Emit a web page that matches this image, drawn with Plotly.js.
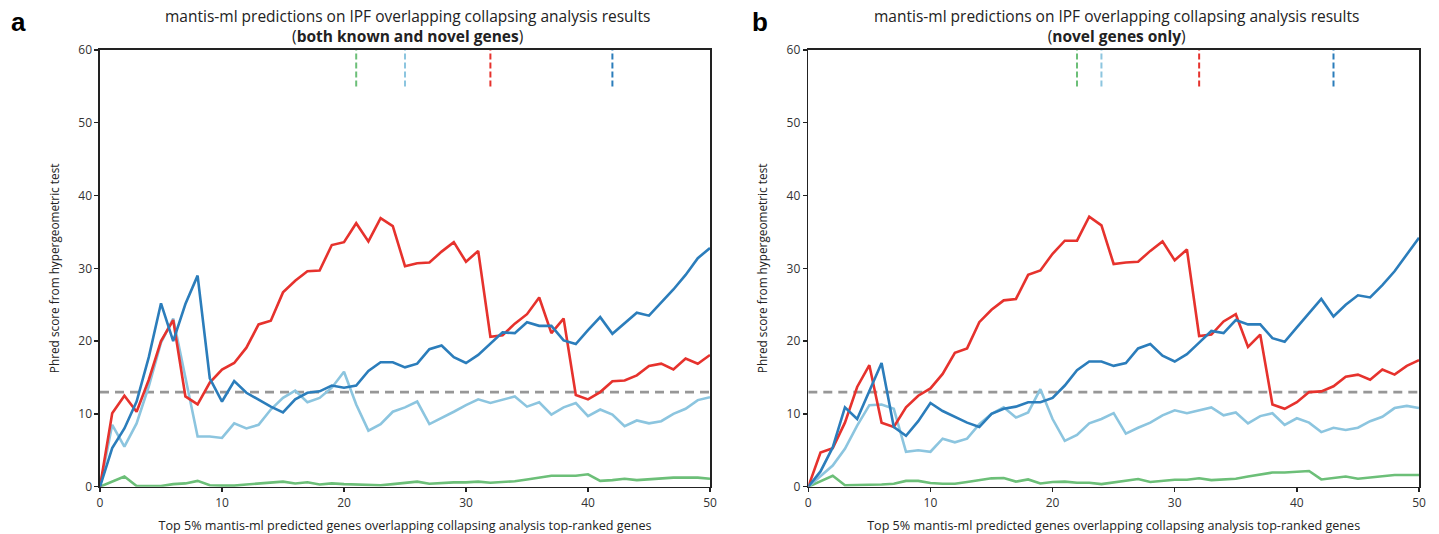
<!DOCTYPE html>
<html>
<head>
<meta charset="utf-8">
<script src="https://cdn.plot.ly/plotly-3.0.1.min.js"></script>
<style>html,body{margin:0;padding:0;background:#fff;}#chart{width:1439px;height:534px;}</style>
</head>
<body>
<div id="chart"></div>
<script>
// x positions (number of top-ranked genes)
const xVals = [0,1,2,3,4,5,6,7,8,9,10,11,12,13,14,15,16,17,18,19,20,21,22,23,24,25,26,27,28,29,30,31,32,33,34,35,36,37,38,39,40,41,42,43,44,45,46,47,48,49,50];

// Panel a: both known and novel genes
const aRed = [0,10.1,12.5,10.3,14.7,20.0,22.9,12.4,11.3,14.3,16.1,17.0,19.1,22.3,22.8,26.7,28.3,29.6,29.7,33.2,33.6,36.2,33.7,36.9,35.8,30.3,30.7,30.8,32.3,33.6,30.9,32.4,20.6,20.8,22.4,23.7,26.0,21.1,23.1,12.6,12.0,13.0,14.5,14.6,15.3,16.6,16.9,16.1,17.6,16.9,18.1];
const aDarkBlue = [0,5.3,8.0,11.7,17.8,25.2,20.0,25.1,29.0,14.9,11.7,14.5,12.9,11.9,11.0,10.2,12.0,12.9,13.1,13.9,13.6,13.9,15.9,17.1,17.1,16.4,16.9,18.9,19.4,17.8,17.0,18.1,19.6,21.2,21.1,22.6,22.1,22.1,20.1,19.6,21.5,23.3,21.0,22.4,23.9,23.5,25.3,27.1,29.1,31.4,32.8];
const aLightBlue = [0,8.5,5.5,8.7,13.8,19.8,23.1,15.2,6.9,6.9,6.7,8.7,8.0,8.5,10.6,12.2,13.2,11.6,12.2,13.6,15.8,11.3,7.7,8.6,10.3,10.9,11.7,8.6,9.4,10.3,11.2,12.0,11.5,12.0,12.4,11.0,11.6,9.9,10.9,11.5,9.7,10.6,9.9,8.3,9.1,8.7,9.0,10.0,10.7,11.9,12.3];
const aGreen = [0,0.7,1.4,0.1,0.1,0.1,0.35,0.45,0.8,0.2,0.15,0.15,0.3,0.45,0.65,0.7,0.45,0.6,0.3,0.45,0.35,0.3,0.3,0.2,0.35,0.55,0.7,0.4,0.55,0.6,0.6,0.7,0.55,0.65,0.75,1.0,1.25,1.5,1.5,1.5,1.7,0.8,0.9,1.1,0.9,1.0,1.2,1.25,1.25,1.25,1.1];
const aMarkers = {green: 21, lightBlue: 25, red: 32, darkBlue: 42};

// Panel b: novel genes only
const bRed = [0,4.7,5.3,8.8,13.7,16.7,8.8,8.2,10.9,12.5,13.5,15.5,18.4,19.0,22.6,24.3,25.6,25.8,29.1,29.7,32.0,33.8,33.8,37.1,35.9,30.6,30.8,30.9,32.4,33.7,31.1,32.6,20.7,20.9,22.7,23.7,19.2,20.9,11.3,10.7,11.6,13.0,13.1,13.8,15.1,15.4,14.7,16.1,15.4,16.6,17.4];
const bDarkBlue = [0,2.1,5.4,10.9,9.3,13.2,17.0,8.2,7.0,9.0,11.5,10.4,9.6,8.8,8.2,10.0,10.7,11.0,11.6,11.6,12.2,13.9,16.0,17.2,17.2,16.6,17.0,19.0,19.6,18.0,17.2,18.2,19.8,21.4,21.1,22.9,22.3,22.3,20.4,19.9,21.9,23.9,25.8,23.4,25.0,26.3,26.0,27.7,29.6,31.9,34.2];
const bLightBlue = [0,1.5,2.9,5.2,8.4,11.2,11.3,10.7,4.8,5.0,4.8,6.6,6.1,6.6,8.6,10.0,10.9,9.5,10.2,13.4,9.3,6.3,7.1,8.7,9.3,10.1,7.3,8.1,8.8,9.8,10.5,10.1,10.5,10.9,9.8,10.2,8.7,9.7,10.1,8.5,9.4,8.8,7.5,8.1,7.8,8.1,9.0,9.6,10.8,11.1,10.8];
const bGreen = [0,0.7,1.5,0.2,0.2,0.2,0.3,0.4,0.8,0.8,0.5,0.4,0.4,0.65,0.9,1.15,1.2,0.7,1.0,0.45,0.65,0.7,0.55,0.55,0.35,0.55,0.85,1.05,0.65,0.85,0.95,0.95,1.15,0.9,1.0,1.1,1.4,1.7,1.95,1.95,2.0,2.15,1.0,1.15,1.4,1.1,1.25,1.5,1.6,1.6,1.6];
const bMarkers = {green: 22, lightBlue: 24, red: 32, darkBlue: 43};

const threshold = 13;
const markerRange = [55, 60];
const xRange = [0, 50];
const yRange = [0, 60];
const xTicks = [0,10,20,30,40,50];
const yTicks = [0,10,20,30,40,50,60];

const titleMain = "mantis-ml predictions on IPF overlapping collapsing analysis results";
const subA = "(<b>both known and novel genes</b>)";
const subB = "(<b>novel genes only</b>)";
const xTitle = "Top 5% mantis-ml predicted genes overlapping collapsing analysis top-ranked genes";
const yTitle = "Phred score from hypergeometric test";

const colors = {red: "#e6322d", darkBlue: "#2b7dbb", lightBlue: "#8cc5df", green: "#6cbf78", grey: "#979797"};
const font = "Open Sans, Noto Sans, sans-serif";

function panel(xa, ya, red, dblue, lblue, green, markers) {
  const t = [];
  const line = (y, c, w) => ({x: xVals, y: y, xaxis: xa, yaxis: ya, mode: "lines", line: {color: c, width: w || 2.6}, hoverinfo: "skip", showlegend: false});
  t.push({x: xRange, y: [threshold, threshold], xaxis: xa, yaxis: ya, mode: "lines", line: {color: colors.grey, width: 2.6, dash: "9px,6px"}, showlegend: false, hoverinfo: "skip"});
  t.push(line(green, colors.green));
  t.push(line(lblue, colors.lightBlue));
  t.push(line(red, colors.red));
  t.push(line(dblue, colors.darkBlue));
  const mk = [["green", colors.green], ["lightBlue", colors.lightBlue], ["red", colors.red], ["darkBlue", colors.darkBlue]];
  mk.forEach(([k, c]) => {
    t.push({x: [markers[k], markers[k]], y: markerRange, xaxis: xa, yaxis: ya, mode: "lines", line: {color: c, width: 2, dash: "6px,3px"}, showlegend: false, hoverinfo: "skip"});
  });
  return t;
}

const traces = [].concat(
  panel("x", "y", aRed, aDarkBlue, aLightBlue, aGreen, aMarkers),
  panel("x2", "y2", bRed, bDarkBlue, bLightBlue, bGreen, bMarkers)
);

const W = 1439, H = 534;
function xaxisDef(l, r, anchor) {
  return {
    domain: [l / W, r / W], range: xRange, anchor: anchor, tickvals: xTicks, ticks: "outside", ticklen: 4, tickwidth: 1.3,
    tickcolor: "#222", showline: true, linecolor: "#222", linewidth: 1.6, mirror: true, showgrid: false, zeroline: false,
    tickfont: {family: font, size: 12, color: "#333"},
    title: {text: xTitle, font: {family: font, size: 12.6, color: "#222"}, standoff: 13}, automargin: false
  };
}
function yaxisDef(anchor) {
  return {
    domain: [1 - 486.7 / H, 1 - 50 / H], range: yRange, anchor: anchor, tickvals: yTicks, ticks: "outside", ticklen: 4, tickwidth: 1.3,
    tickcolor: "#222", showline: true, linecolor: "#222", linewidth: 1.6, mirror: true, showgrid: false, zeroline: false,
    tickfont: {family: font, size: 12, color: "#333"},
    title: {text: yTitle, font: {family: font, size: 11.8, color: "#222"}, standoff: 16}, automargin: false
  };
}

const titleFont = {family: font, size: 15.5, color: "#222"};
const layout = {
  width: W, height: H,
  margin: {l: 0, r: 0, t: 0, b: 0},
  paper_bgcolor: "#fff", plot_bgcolor: "#fff",
  showlegend: false,
  xaxis: xaxisDef(100, 710, "y"),
  yaxis: yaxisDef("x"),
  xaxis2: xaxisDef(808.3, 1419, "y2"),
  yaxis2: yaxisDef("x2"),
  annotations: [
    {text: titleMain + "<br>" + subA, xref: "paper", yref: "paper", x: 407 / W, y: 1 - 26 / H, showarrow: false, xanchor: "center", yanchor: "middle", align: "center", font: titleFont},
    {text: titleMain + "<br>" + subB, xref: "paper", yref: "paper", x: 1116 / W, y: 1 - 26 / H, showarrow: false, xanchor: "center", yanchor: "middle", align: "center", font: titleFont},
    {text: "<b>a</b>", xref: "paper", yref: "paper", x: 9 / W, y: 1 - 22 / H, showarrow: false, xanchor: "left", yanchor: "middle", font: {family: "Liberation Sans, Arial, sans-serif", size: 26, color: "#000"}},
    {text: "<b>b</b>", xref: "paper", yref: "paper", x: 750 / W, y: 1 - 22 / H, showarrow: false, xanchor: "left", yanchor: "middle", font: {family: "Liberation Sans, Arial, sans-serif", size: 26, color: "#000"}}
  ]
};

Plotly.newPlot("chart", traces, layout, {staticPlot: true, displayModeBar: false});
</script>
</body>
</html>
